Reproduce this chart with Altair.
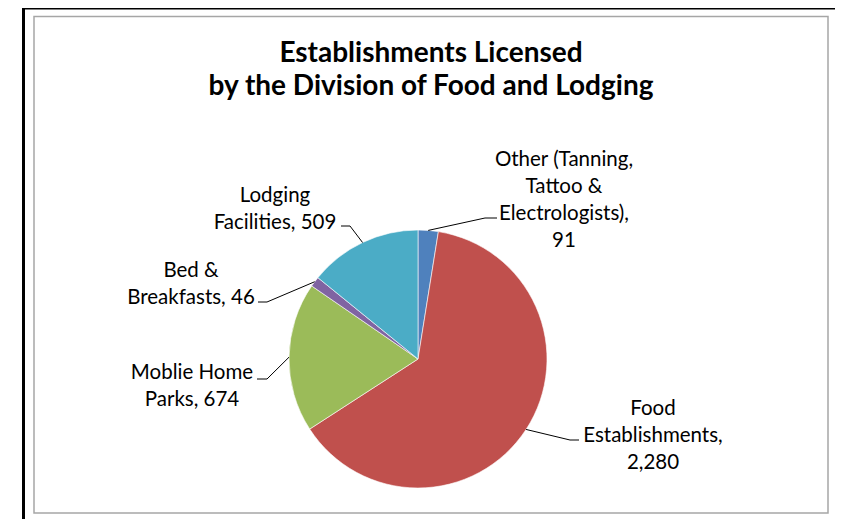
import math
import altair as alt
import pandas as pd

# ---------------- data ----------------
categories = [
    "Other (Tanning, Tattoo & Electrologists)",
    "Food Establishments",
    "Moblie Home Parks",
    "Bed & Breakfasts",
    "Lodging Facilities",
]
values = [91, 2280, 674, 46, 509]
# how each label is wrapped: name lines, then the value is appended
label_name_lines = [
    ["Other (Tanning,", "Tattoo &", "Electrologists),"],
    ["Food", "Establishments,"],
    ["Moblie Home", "Parks,"],
    ["Bed &", "Breakfasts,"],
    ["Lodging", "Facilities,"],
]
value_on_own_line = [True, True, False, False, False]
title_lines = ["Establishments Licensed", "by the Division of Food and Lodging"]

colors = ["#4F81BD", "#C0504D", "#9BBB59", "#8064A2", "#4BACC6"]

# ---------------- layout (svg pixels) ----------------
W, H = 827, 511
CX, CY, R = 410, 351, 129
label_xy = [(556, 158), (645, 407), (184, 371), (183, 269), (267, 194)]
elbow_xy = [(477, 210), (562, 432), (259, 371), (259, 294), (342, 218)]
end_xy = [(489, 210), (571, 432), (249, 371), (250, 294), (333, 218)]

# ---------------- build tables ----------------
total = sum(values)
pie_df = pd.DataFrame({"category": categories, "value": values, "idx": range(len(values))})


def build_label(i):
    lines = list(label_name_lines[i])
    v = f"{values[i]:,}"
    if value_on_own_line[i]:
        lines.append(v)
    else:
        lines[-1] = lines[-1] + " " + v
    return "\n".join(lines)


label_df = pd.DataFrame(
    [{"x": label_xy[i][0], "y": label_xy[i][1], "text": build_label(i)} for i in range(len(values))]
)

line_rows = []
cum = 0
for i, v in enumerate(values):
    mid = (cum + v / 2) / total * 2 * math.pi
    cum += v
    ex = CX + R * math.sin(mid)
    ey = CY - R * math.cos(mid)
    pts = [(ex, ey), elbow_xy[i], end_xy[i]]
    for k, (px, py) in enumerate(pts):
        line_rows.append({"cat": categories[i], "k": k, "x": px, "y": py})
line_df = pd.DataFrame(line_rows)

title_df = pd.DataFrame({"x": [423], "y": [54], "text": ["\n".join(title_lines)]})

xs = alt.Scale(domain=[0, W], range=[0, W])
ys = alt.Scale(domain=[0, H], range=[0, H])

frame_outer = alt.Chart(pd.DataFrame({"a": [0]})).mark_rect(
    fill=None, stroke="black", strokeWidth=3
).encode(x=alt.value(15.5), x2=alt.value(831), y=alt.value(0), y2=alt.value(H + 40))

frame_inner = alt.Chart(pd.DataFrame({"a": [0]})).mark_rect(
    fill=None, stroke="#A6A6A6", strokeWidth=1.5
).encode(x=alt.value(26), x2=alt.value(820), y=alt.value(8.5), y2=alt.value(505))

pie = alt.Chart(pie_df).mark_arc(outerRadius=R, stroke="white", strokeWidth=0.6).encode(
    theta=alt.Theta("value:Q", stack=True),
    color=alt.Color("category:N", scale=alt.Scale(domain=categories, range=colors), legend=None),
    order=alt.Order("idx:Q"),
    x=alt.value(CX),
    y=alt.value(CY),
)

leaders = alt.Chart(line_df).mark_line(color="black", strokeWidth=1).encode(
    x=alt.X("x:Q", scale=xs, axis=None),
    y=alt.Y("y:Q", scale=ys, axis=None),
    detail="cat:N",
    order="k:Q",
)

labels = alt.Chart(label_df).mark_text(
    font="Lato", fontSize=20.5, color="black", align="center", baseline="alphabetic",
    lineBreak="\n", lineHeight=27,
).encode(
    x=alt.X("x:Q", scale=xs, axis=None),
    y=alt.Y("y:Q", scale=ys, axis=None),
    text="text:N",
)

title = alt.Chart(title_df).mark_text(
    font="Lato", fontSize=28, fontWeight="bold", color="black", align="center",
    baseline="alphabetic", lineBreak="\n", lineHeight=33,
).encode(
    x=alt.X("x:Q", scale=xs, axis=None),
    y=alt.Y("y:Q", scale=ys, axis=None),
    text="text:N",
)

chart = alt.layer(frame_outer, frame_inner, pie, leaders, labels, title).properties(
    width=W, height=H, padding=0, autosize=alt.AutoSizeParams(type="none"),
    background="white",
).configure_view(stroke=None)

chart.save("out.html", embed_options={"renderer": "svg", "actions": False})
